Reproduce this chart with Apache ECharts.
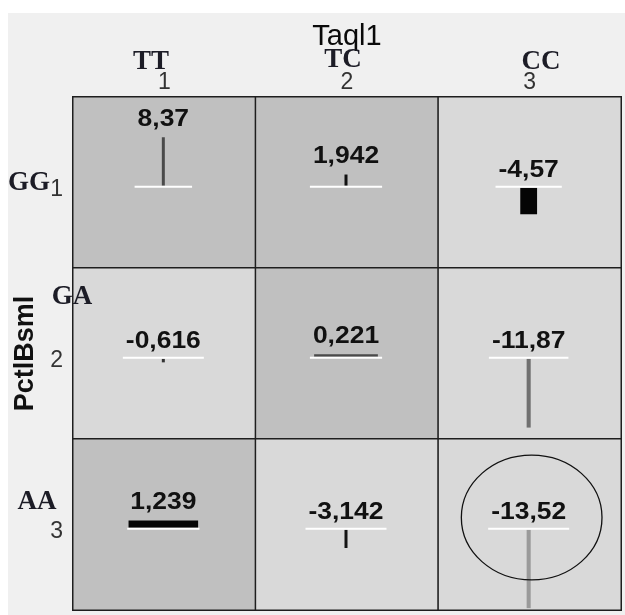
<!DOCTYPE html>
<html><head><meta charset="utf-8">
<script src="https://cdn.jsdelivr.net/npm/echarts@6/dist/echarts.min.js"></script>
<style>html,body{margin:0;padding:0;background:#fff}#c{width:625px;height:615px}</style>
</head><body><div id="c"></div>
<script>
// ---- data ----
const colCategories = ['1', '2', '3'];          // Taql1 codes
const rowCategories = ['1', '2', '3'];          // PctlBsml codes
const colGenotypes = ['TT', 'TC', 'CC'];
const rowGenotypes = ['GG', 'GA', 'AA'];
const effectRow1 = [8.37, 1.942, -4.57];
const effectRow2 = [-0.616, 0.221, -11.87];
const effectRow3 = [1.239, -3.142, -13.52];
const spreadRow1 = [0.5, 0.5, 2.9];
const spreadRow2 = [0.5, 11.0, 0.7];
const spreadRow3 = [12.0, 0.5, 0.7];

// ---- styles (kept apart from data) ----
const markColorRows = [
  ['#4a4a4a', '#111111', '#050505'],
  ['#333333', '#4a4a4a', '#707070'],
  ['#050505', '#151515', '#9a9a9a']
];
const VALUE_FONT = 'bold 23px "Liberation Sans", Arial, sans-serif';
const VALUE_SCALE_X = 1.15;

const effects = [effectRow1, effectRow2, effectRow3];
const spreads = [spreadRow1, spreadRow2, spreadRow3];

const cellData = [];
const markData = [];
let maxAbs = 0;
effects.forEach((row, r) => row.forEach((v, c) => {
  cellData.push([c, r, v]);
  markData.push([c, r, v, spreads[r][c]]);
  maxAbs = Math.max(maxAbs, Math.abs(v));
}));

const mctx = document.createElement('canvas').getContext('2d');
function textWidth(t) { mctx.font = VALUE_FONT; return mctx.measureText(t).width * VALUE_SCALE_X; }

function renderMark(params, api) {
  const c = api.value(0), r = api.value(1), v = api.value(2), s = api.value(3);
  const center = api.coord([c, r]);
  const size = api.size([1, 1]);
  const unit = size[1] / 29.5;              // px per data unit
  const top = center[1] - size[1] / 2;
  const baseY = top + size[1] * 0.525;
  const cx = center[0] - 1;
  const h = Math.max(Math.abs(v) * unit, 2.5);
  const w = Math.max(s * unit, 3);
  const rectY = v >= 0 ? baseY - 1 - h : baseY + 1;
  const label = String(v).replace('.', ',');
  const tw = textWidth(label);
  const textY = v >= 0 ? rectY - 18 : baseY - 16;
  const children = [
    { type: 'rect', shape: { x: cx - w / 2, y: rectY, width: w, height: h },
      style: { fill: markColorRows[r][c] } },
    { type: 'line', shape: { x1: cx - tw / 2 - 3, y1: baseY, x2: cx + tw / 2 + 3, y2: baseY },
      style: { stroke: '#ffffff', lineWidth: 2 } },
    { type: 'text', x: cx, y: textY, scaleX: VALUE_SCALE_X,
      style: { text: label, font: VALUE_FONT, fill: '#111111', align: 'center', verticalAlign: 'middle' } }
  ];
  if (Math.abs(v) === maxAbs) {
    children.push({ type: 'ellipse',
      shape: { cx: center[0] + 2, cy: center[1] - 7, rx: size[0] * 0.385, ry: size[1] * 0.365 },
      style: { fill: null, stroke: '#111111', lineWidth: 1.3 } });
  }
  return { type: 'group', children };
}

const chart = echarts.init(document.getElementById('c'), null, { renderer: 'canvas' });
const genoFont = 'bold 27px "Liberation Serif", "Times New Roman", serif';
const genoColor = '#1c1c26';
function genoText(text, x, y) {
  return { type: 'text', z: 100, x, y, style: { text, font: genoFont, fill: genoColor, align: 'center', verticalAlign: 'middle' } };
}
chart.setOption({
  animation: false,
  backgroundColor: '#ffffff',
  graphic: [
    { type: 'rect', z: -10, shape: { x: 8, y: 13, width: 617, height: 602 }, style: { fill: '#f0f0f0' } },
    genoText(colGenotypes[0], 151, 62),
    genoText(colGenotypes[1], 343, 60),
    genoText(colGenotypes[2], 541, 62),
    genoText(rowGenotypes[0], 29, 183),
    genoText(rowGenotypes[1], 72, 297),
    genoText(rowGenotypes[2], 37, 502)
  ],
  grid: { left: 73, top: 97, width: 548, height: 513 },
  xAxis: {
    type: 'category', data: colCategories, position: 'top',
    name: 'Taql1', nameLocation: 'middle', nameGap: 46,
    nameTextStyle: { fontSize: 29, color: '#0a0a0a', fontFamily: 'Liberation Sans' },
    axisLine: { show: false }, axisTick: { show: false }, splitLine: { show: false },
    axisLabel: { fontSize: 23, color: '#333', margin: 3, fontFamily: 'Liberation Sans' }
  },
  yAxis: {
    type: 'category', data: rowCategories, inverse: true,
    name: 'PctlBsml', nameLocation: 'middle', nameGap: 32, nameRotate: 90,
    nameTextStyle: { fontSize: 27, fontWeight: 'bold', color: '#111', fontFamily: 'Liberation Sans' },
    axisLine: { show: false }, axisTick: { show: false }, splitLine: { show: false },
    axisLabel: {
      margin: 10, formatter: '{v|{value}}',
      rich: { v: { fontSize: 23, color: '#333', fontFamily: 'Liberation Sans', padding: [15, 0, 0, 0] } }
    }
  },
  visualMap: {
    show: false, type: 'piecewise', seriesIndex: 0, dimension: 2,
    pieces: [{ lt: 0, color: '#d9d9d9' }, { gte: 0, color: '#c0c0c0' }]
  },
  series: [
    { type: 'heatmap', data: cellData, silent: true,
      itemStyle: { borderColor: '#1e1e1e', borderWidth: 1.5 },
      emphasis: { disabled: true }, label: { show: false } },
    { type: 'custom', data: markData, renderItem: renderMark, silent: true, z: 5 }
  ]
});
</script></body></html>
